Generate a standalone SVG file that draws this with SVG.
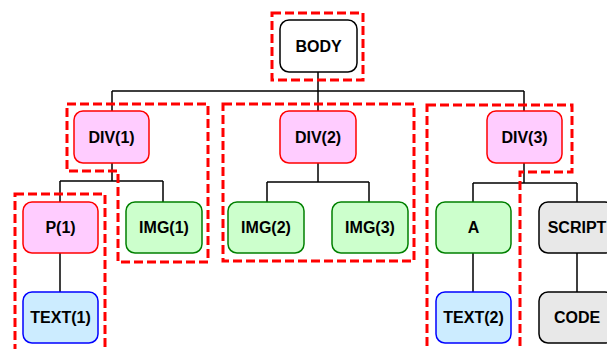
<svg xmlns="http://www.w3.org/2000/svg" width="607" height="349" viewBox="0 0 607 349">
<style>
.n{stroke-width:1.5}
.div{fill:#FFCCFF;stroke:#FF0000}
.img{fill:#CCFFCC;stroke:#008000}
.txt{fill:#CCECFF;stroke:#0000FF}
.wht{fill:#FFFFFF;stroke:#000000}
.gry{fill:#E8E8E8;stroke:#000000}
text{font-family:"Liberation Sans",Arial,sans-serif;font-weight:bold;font-size:16px;fill:#000;text-anchor:middle}
.c{fill:none;stroke:#000;stroke-width:1.5}
.g{fill:none;stroke:#FF0000;stroke-width:3;stroke-dasharray:9 4}
</style>
<g id="connectors">
<path class="c" d="M318,72V91M112,91H524M112,91V111M318,91V111M524,91V111"/>
<path class="c" d="M112,163V181M60,181H163M60,181V202M163,181V202M60,253V292"/>
<path class="c" d="M318,163V182M267,182H369M267,182V202M369,182V202"/>
<path class="c" d="M524,163V183M473,183H577M473,183V202M577,183V202M473,253V292M577,253V292"/>
</g>
<g id="groups">
<rect class="g" x="272" y="13" width="91" height="67"/>
<path class="g" d="M67,104H208V262H118V171H67Z"/>
<rect class="g" x="15" y="194" width="90" height="165"/>
<rect class="g" x="223" y="104" width="191" height="157"/>
<path class="g" d="M427,105H572V172H520V360H427Z"/>
</g>
<g id="BODY"><rect class="n wht" x="280" y="20" width="77" height="52" rx="9"/><text x="318.5" y="52">BODY</text></g>
<g id="DIV1"><rect class="n div" x="74" y="111" width="75" height="52" rx="9"/><text x="111.5" y="143">DIV(1)</text></g>
<g id="DIV2"><rect class="n div" x="280" y="111" width="76" height="52" rx="9"/><text x="318" y="143">DIV(2)</text></g>
<g id="DIV3"><rect class="n div" x="487" y="111" width="75" height="52" rx="9"/><text x="524.5" y="143">DIV(3)</text></g>
<g id="P1"><rect class="n div" x="23" y="202" width="75" height="51" rx="9"/><text x="60.5" y="233">P(1)</text></g>
<g id="IMG1"><rect class="n img" x="126" y="202" width="76" height="51" rx="9"/><text x="164" y="233">IMG(1)</text></g>
<g id="IMG2"><rect class="n img" x="228" y="202" width="76" height="51" rx="9"/><text x="266" y="233">IMG(2)</text></g>
<g id="IMG3"><rect class="n img" x="332" y="202" width="76" height="51" rx="9"/><text x="370" y="233">IMG(3)</text></g>
<g id="A"><rect class="n img" x="436" y="202" width="75" height="51" rx="9"/><text x="473.5" y="233">A</text></g>
<g id="SCRIPT"><rect class="n gry" x="539" y="202" width="75" height="51" rx="9"/><text x="577" y="233">SCRIPT</text></g>
<g id="TEXT1"><rect class="n txt" x="23" y="292" width="75" height="51" rx="9"/><text x="60.5" y="323">TEXT(1)</text></g>
<g id="TEXT2"><rect class="n txt" x="436" y="292" width="75" height="51" rx="9"/><text x="473.5" y="323">TEXT(2)</text></g>
<g id="CODE"><rect class="n gry" x="539" y="292" width="75" height="51" rx="9"/><text x="577" y="323">CODE</text></g>
</svg>
